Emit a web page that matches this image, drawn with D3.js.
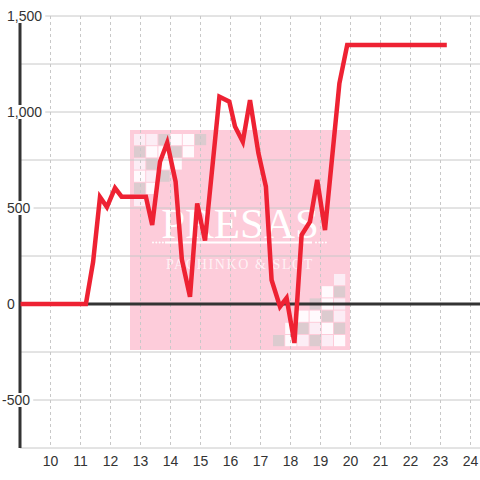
<!DOCTYPE html>
<html><head><meta charset="utf-8">
<script src="https://cdn.jsdelivr.net/npm/d3@7"></script>
<style>html,body{margin:0;padding:0;background:#fff;}svg{display:block;}</style>
</head><body>
<svg id="c" width="480" height="480"></svg>
<script>
// ---- data ----
const times = [9, 11.18, 11.42, 11.65, 11.88, 12.15, 12.37, 13.18, 13.39, 13.65, 13.89, 14.17, 14.38, 14.65, 14.89, 15.15, 15.63, 15.96, 16.15, 16.41, 16.65, 16.93, 17.18, 17.37, 17.65, 17.87, 18.13, 18.37, 18.65, 18.89, 19.15, 19.63, 19.89, 23.21];
const values = [0, 0, 219, 557, 505, 604, 559, 559, 411, 741, 840, 637, 230, 38, 524, 330, 1080, 1054, 924, 845, 1062, 786, 611, 125, -14, 31, -203, 359, 429, 646, 385, 1149, 1349, 1349];
const xTicks = [10, 11, 12, 13, 14, 15, 16, 17, 18, 19, 20, 21, 22, 23, 24];
const yLabelTicks = [1500, 1000, 500, 0, -500];
const yGridTicks = [1500, 1250, 1000, 750, 500, 250, -250, -500, -750];
const brandName = "PRESAS";
const brandSub = "PACHINKO & SLOT";

// ---- layout ----
const svg = d3.select("#c");
const W = 480;
const x = d3.scaleLinear().domain([9, 24]).range([20.5, 470.5]);
const y = d3.scaleLinear().domain([-750, 1500]).range([448, 16]);
const font = "'Liberation Sans', Arial, sans-serif";

// ---- watermark ----
const wm = svg.append("g");
const wx0 = 130, wy0 = 130, ws = 220;
wm.append("rect").attr("x", wx0).attr("y", wy0).attr("width", ws).attr("height", ws).attr("fill", "#fdccda");
const cols = {G: "#dccbcf", W: "#fffafd", L: "#fcedf5"};
const tl = ["LLGWWG", "GWWGW", "LGWW", "WLG", "GW", "L"];
const br = ["     L", "    WG", "   GWL", "  WWGL", " WGLWG", "GWLGLW"];
const pitch = 12.2, sq = 11.2;
tl.forEach((row, r) => row.split("").forEach((c, i) => {
  if (c === " ") return;
  wm.append("rect").attr("x", 134 + i * pitch).attr("y", 134 + r * pitch).attr("width", sq).attr("height", sq).attr("fill", cols[c]);
}));
br.forEach((row, r) => row.split("").forEach((c, i) => {
  if (c === " ") return;
  wm.append("rect").attr("x", 273 + i * pitch).attr("y", 274 + r * pitch).attr("width", sq).attr("height", sq).attr("fill", cols[c]);
}));
wm.append("text").attr("x", 240).attr("y", 238).attr("text-anchor", "middle")
  .attr("font-family", "'Liberation Serif', 'Times New Roman', serif").attr("font-size", 43)
  .attr("fill", "#fff").text(brandName);
wm.append("line").attr("x1", 165).attr("x2", 312).attr("y1", 242.5).attr("y2", 242.5).attr("stroke", "#fff").attr("stroke-width", 2);
[0, 1, 2, 3].forEach(i => {
  wm.append("circle").attr("cx", 153 + i * 3.3).attr("cy", 242.5).attr("r", 1).attr("fill", "#fff");
  wm.append("circle").attr("cx", 316 + i * 3.3).attr("cy", 242.5).attr("r", 1).attr("fill", "#fff");
});
wm.append("text").attr("x", 240).attr("y", 269).attr("text-anchor", "middle")
  .attr("font-family", "'Liberation Serif', 'Times New Roman', serif").attr("font-size", 14)
  .attr("letter-spacing", 1.6).attr("fill", "#fff").attr("fill-opacity", 0.75).text(brandSub);

// ---- grid ----
svg.append("g").selectAll("line").data(xTicks).join("line")
  .attr("x1", d => x(d)).attr("x2", d => x(d)).attr("y1", y(1500)).attr("y2", y(-750))
  .attr("stroke", "#c8c8c8").attr("stroke-width", 1).attr("stroke-dasharray", "3,3");
svg.append("g").selectAll("line").data(yGridTicks).join("line")
  .attr("x1", 20).attr("x2", W).attr("y1", d => y(d)).attr("y2", d => y(d))
  .attr("stroke", "#c8c8c8").attr("stroke-width", 1);

// zero line
svg.append("line").attr("x1", 20).attr("x2", W).attr("y1", y(0)).attr("y2", y(0))
  .attr("stroke", "#333").attr("stroke-width", 3);
// y axis line
svg.append("line").attr("x1", 20).attr("x2", 20).attr("y1", y(1500)).attr("y2", y(-750))
  .attr("stroke", "#333").attr("stroke-width", 3);

// y labels with white background
const fmt = v => d3.format(",")(v).replace("\u2212", "-");
const yl = svg.append("g").selectAll("g").data(yLabelTicks).join("g");
yl.each(function(d) {
  const g = d3.select(this);
  const t = g.append("text").attr("x", d < 0 ? 2 : 7).attr("y", y(d)).attr("dy", "0.36em")
    .attr("font-family", font).attr("font-size", 14).attr("fill", "#333").text(fmt(d));
  if (d !== 0) {
    const bb = t.node().getBBox();
    g.insert("rect", "text").attr("x", bb.x - 2).attr("y", y(d) - 7).attr("width", bb.width + 5).attr("height", 14).attr("fill", "#fff");
  }
});

// x labels
svg.append("g").selectAll("text").data(xTicks).join("text")
  .attr("x", d => x(d)).attr("y", 466).attr("text-anchor", "middle")
  .attr("font-family", font).attr("font-size", 14).attr("fill", "#333").text(d => d);

// ---- data line ----
const pts = times.map((t, i) => [t, values[i]]);
svg.append("path").datum(pts)
  .attr("d", d3.line().x(d => x(d[0])).y(d => y(d[1])))
  .attr("fill", "none").attr("stroke", "#ee2233").attr("stroke-width", 4.5);
</script>
</body></html>
